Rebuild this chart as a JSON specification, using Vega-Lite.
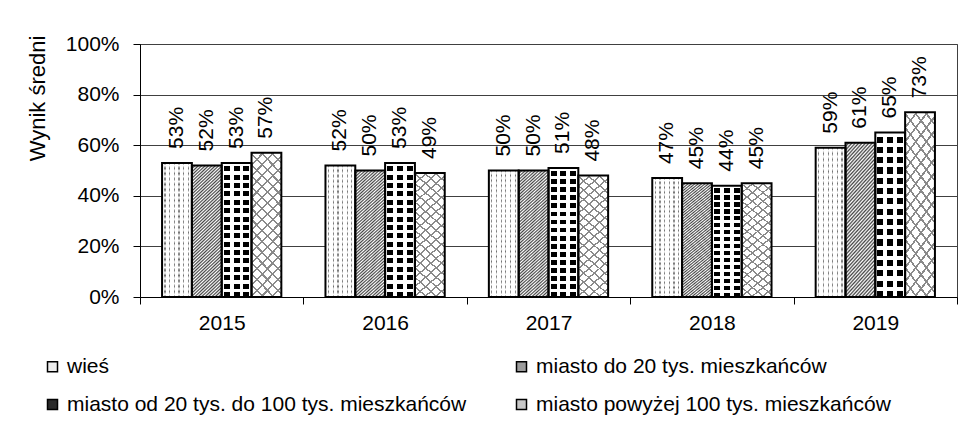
{
  "$schema": "https://vega.github.io/schema/vega-lite/v6.json",
  "width": 817,
  "height": 253,
  "autosize": {"type": "none"},
  "padding": {"left": 140, "top": 44, "right": 17, "bottom": 133},
  "background": "white",
  "config": {"font": "Liberation Sans", "view": {"stroke": "#404040", "strokeWidth": 1}},
  "data": {"values": [
    {"year": "2015", "g": "wieś", "value": 0.53},
    {"year": "2015", "g": "miasto do 20 tys. mieszkańców", "value": 0.52},
    {"year": "2015", "g": "miasto od 20 tys. do 100 tys. mieszkańców", "value": 0.53},
    {"year": "2015", "g": "miasto powyżej 100 tys. mieszkańców", "value": 0.57},
    {"year": "2016", "g": "wieś", "value": 0.52},
    {"year": "2016", "g": "miasto do 20 tys. mieszkańców", "value": 0.50},
    {"year": "2016", "g": "miasto od 20 tys. do 100 tys. mieszkańców", "value": 0.53},
    {"year": "2016", "g": "miasto powyżej 100 tys. mieszkańców", "value": 0.49},
    {"year": "2017", "g": "wieś", "value": 0.50},
    {"year": "2017", "g": "miasto do 20 tys. mieszkańców", "value": 0.50},
    {"year": "2017", "g": "miasto od 20 tys. do 100 tys. mieszkańców", "value": 0.51},
    {"year": "2017", "g": "miasto powyżej 100 tys. mieszkańców", "value": 0.48},
    {"year": "2018", "g": "wieś", "value": 0.47},
    {"year": "2018", "g": "miasto do 20 tys. mieszkańców", "value": 0.45},
    {"year": "2018", "g": "miasto od 20 tys. do 100 tys. mieszkańców", "value": 0.44},
    {"year": "2018", "g": "miasto powyżej 100 tys. mieszkańców", "value": 0.45},
    {"year": "2019", "g": "wieś", "value": 0.59},
    {"year": "2019", "g": "miasto do 20 tys. mieszkańców", "value": 0.61},
    {"year": "2019", "g": "miasto od 20 tys. do 100 tys. mieszkańców", "value": 0.65},
    {"year": "2019", "g": "miasto powyżej 100 tys. mieszkańców", "value": 0.73}
  ]},
  "encoding": {
    "x": {
      "field": "year", "type": "ordinal",
      "scale": {"paddingInner": 0, "paddingOuter": 0},
      "axis": {"title": null, "labelAngle": 0, "labelFontSize": 21, "labelColor": "#000", "labelPadding": 8, "tickBand": "extent", "tickSize": 7, "tickColor": "#000", "domainColor": "#000", "grid": false}
    },
    "xOffset": {
      "field": "g", "type": "nominal",
      "scale": {"domain": ["wieś", "miasto do 20 tys. mieszkańców", "miasto od 20 tys. do 100 tys. mieszkańców", "miasto powyżej 100 tys. mieszkańców"], "paddingInner": 0, "paddingOuter": 0.74}
    },
    "y": {
      "field": "value", "type": "quantitative",
      "scale": {"domain": [0, 1]},
      "axis": {"title": "Wynik średni", "format": ".0%", "values": [0, 0.2, 0.4, 0.6, 0.8, 1], "grid": true, "gridColor": "#404040", "domainColor": "#000", "tickColor": "#000", "tickSize": 7, "labelFontSize": 21, "labelColor": "#000", "labelPadding": 14, "titleFontSize": 22, "titleFontWeight": "normal", "titleColor": "#000", "titleAngle": 270, "titleAlign": "center", "titleBaseline": "middle", "titleX": -103, "titleY": 54}
    }
  },
  "layer": [
    {
      "mark": {"type": "bar"},
      "encoding": {
        "color": {
          "field": "g", "type": "nominal",
          "scale": {"domain": ["wieś", "miasto do 20 tys. mieszkańców", "miasto od 20 tys. do 100 tys. mieszkańców", "miasto powyżej 100 tys. mieszkańców"], "range": ["#eeeeee", "#9d9d9d", "#2a2a2a", "#c8c8c8"]},
          "legend": {"title": null, "orient": "none", "legendX": -98, "legendY": 312, "columns": 2, "direction": "horizontal", "symbolType": "square", "symbolSize": 100, "symbolStrokeColor": "#000", "symbolStrokeWidth": 1.5, "labelFontSize": 21, "labelColor": "#000", "labelOffset": 4, "columnPadding": 44, "rowPadding": 16, "padding": 0, "labelLimit": 600}
        }
      }
    },
    {
      "transform": [{"filter": "datum.g === 'wieś'"}],
      "mark": {"type": "bar", "fill": {"gradient": "linear", "x1": 0, "y1": 0, "x2": 1, "y2": 0, "stops": [
        {"offset": 0, "color": "#fff"}, {"offset": 0.08, "color": "#fff"}, {"offset": 0.08, "color": "#707070"}, {"offset": 0.12, "color": "#707070"},
        {"offset": 0.12, "color": "#fff"}, {"offset": 0.24, "color": "#fff"}, {"offset": 0.24, "color": "#707070"}, {"offset": 0.28, "color": "#707070"},
        {"offset": 0.28, "color": "#fff"}, {"offset": 0.4, "color": "#fff"}, {"offset": 0.4, "color": "#707070"}, {"offset": 0.44, "color": "#707070"},
        {"offset": 0.44, "color": "#fff"}, {"offset": 0.55, "color": "#fff"}, {"offset": 0.55, "color": "#707070"}, {"offset": 0.59, "color": "#707070"},
        {"offset": 0.59, "color": "#fff"}, {"offset": 0.71, "color": "#fff"}, {"offset": 0.71, "color": "#707070"}, {"offset": 0.75, "color": "#707070"},
        {"offset": 0.75, "color": "#fff"}, {"offset": 0.86, "color": "#fff"}, {"offset": 0.86, "color": "#707070"}, {"offset": 0.9, "color": "#707070"},
        {"offset": 0.9, "color": "#fff"}, {"offset": 1, "color": "#fff"}
      ]}}
    },
    {
      "transform": [{"filter": "datum.g === 'wieś'"}],
      "mark": {"type": "bar", "fill": {"gradient": "linear", "x1": 0, "y1": 0, "x2": 0, "y2": 1, "stops": [
        {"offset": 0, "color": "rgba(255,255,255,0)"}, {"offset": 0.02, "color": "#fff"}, {"offset": 0.04, "color": "rgba(255,255,255,0)"}, {"offset": 0.06, "color": "#fff"},
        {"offset": 0.08, "color": "rgba(255,255,255,0)"}, {"offset": 0.1, "color": "#fff"}, {"offset": 0.12, "color": "rgba(255,255,255,0)"}, {"offset": 0.14, "color": "#fff"},
        {"offset": 0.16, "color": "rgba(255,255,255,0)"}, {"offset": 0.18, "color": "#fff"}, {"offset": 0.2, "color": "rgba(255,255,255,0)"}, {"offset": 0.22, "color": "#fff"},
        {"offset": 0.24, "color": "rgba(255,255,255,0)"}, {"offset": 0.26, "color": "#fff"}, {"offset": 0.28, "color": "rgba(255,255,255,0)"}, {"offset": 0.3, "color": "#fff"},
        {"offset": 0.32, "color": "rgba(255,255,255,0)"}, {"offset": 0.34, "color": "#fff"}, {"offset": 0.36, "color": "rgba(255,255,255,0)"}, {"offset": 0.38, "color": "#fff"},
        {"offset": 0.4, "color": "rgba(255,255,255,0)"}, {"offset": 0.42, "color": "#fff"}, {"offset": 0.44, "color": "rgba(255,255,255,0)"}, {"offset": 0.46, "color": "#fff"},
        {"offset": 0.48, "color": "rgba(255,255,255,0)"}, {"offset": 0.5, "color": "#fff"}, {"offset": 0.52, "color": "rgba(255,255,255,0)"}, {"offset": 0.54, "color": "#fff"},
        {"offset": 0.56, "color": "rgba(255,255,255,0)"}, {"offset": 0.58, "color": "#fff"}, {"offset": 0.6, "color": "rgba(255,255,255,0)"}, {"offset": 0.62, "color": "#fff"},
        {"offset": 0.64, "color": "rgba(255,255,255,0)"}, {"offset": 0.66, "color": "#fff"}, {"offset": 0.68, "color": "rgba(255,255,255,0)"}, {"offset": 0.7, "color": "#fff"},
        {"offset": 0.72, "color": "rgba(255,255,255,0)"}, {"offset": 0.74, "color": "#fff"}, {"offset": 0.76, "color": "rgba(255,255,255,0)"}, {"offset": 0.78, "color": "#fff"},
        {"offset": 0.8, "color": "rgba(255,255,255,0)"}, {"offset": 0.82, "color": "#fff"}, {"offset": 0.84, "color": "rgba(255,255,255,0)"}, {"offset": 0.86, "color": "#fff"},
        {"offset": 0.88, "color": "rgba(255,255,255,0)"}, {"offset": 0.9, "color": "#fff"}, {"offset": 0.92, "color": "rgba(255,255,255,0)"}, {"offset": 0.94, "color": "#fff"},
        {"offset": 0.96, "color": "rgba(255,255,255,0)"}, {"offset": 0.98, "color": "#fff"}, {"offset": 1, "color": "rgba(255,255,255,0)"}
      ]}}
    },
    {
      "transform": [{"filter": "datum.g === 'miasto do 20 tys. mieszkańców'"}],
      "mark": {"type": "bar", "fill": {"gradient": "linear", "x1": 0, "y1": 0, "x2": 0.247, "y2": 1.16, "stops": [
        {"offset": 0, "color": "#444"}, {"offset": 0.01, "color": "#fff"}, {"offset": 0.02, "color": "#444"}, {"offset": 0.03, "color": "#fff"},
        {"offset": 0.04, "color": "#444"}, {"offset": 0.05, "color": "#fff"}, {"offset": 0.06, "color": "#444"}, {"offset": 0.07, "color": "#fff"},
        {"offset": 0.08, "color": "#444"}, {"offset": 0.09, "color": "#fff"}, {"offset": 0.1, "color": "#444"}, {"offset": 0.11, "color": "#fff"},
        {"offset": 0.12, "color": "#444"}, {"offset": 0.13, "color": "#fff"}, {"offset": 0.14, "color": "#444"}, {"offset": 0.15, "color": "#fff"},
        {"offset": 0.16, "color": "#444"}, {"offset": 0.17, "color": "#fff"}, {"offset": 0.18, "color": "#444"}, {"offset": 0.19, "color": "#fff"},
        {"offset": 0.2, "color": "#444"}, {"offset": 0.21, "color": "#fff"}, {"offset": 0.22, "color": "#444"}, {"offset": 0.23, "color": "#fff"},
        {"offset": 0.24, "color": "#444"}, {"offset": 0.25, "color": "#fff"}, {"offset": 0.26, "color": "#444"}, {"offset": 0.27, "color": "#fff"},
        {"offset": 0.28, "color": "#444"}, {"offset": 0.29, "color": "#fff"}, {"offset": 0.3, "color": "#444"}, {"offset": 0.31, "color": "#fff"},
        {"offset": 0.32, "color": "#444"}, {"offset": 0.33, "color": "#fff"}, {"offset": 0.34, "color": "#444"}, {"offset": 0.35, "color": "#fff"},
        {"offset": 0.36, "color": "#444"}, {"offset": 0.37, "color": "#fff"}, {"offset": 0.38, "color": "#444"}, {"offset": 0.39, "color": "#fff"},
        {"offset": 0.4, "color": "#444"}, {"offset": 0.41, "color": "#fff"}, {"offset": 0.42, "color": "#444"}, {"offset": 0.43, "color": "#fff"},
        {"offset": 0.44, "color": "#444"}, {"offset": 0.45, "color": "#fff"}, {"offset": 0.46, "color": "#444"}, {"offset": 0.47, "color": "#fff"},
        {"offset": 0.48, "color": "#444"}, {"offset": 0.49, "color": "#fff"}, {"offset": 0.5, "color": "#444"}, {"offset": 0.51, "color": "#fff"},
        {"offset": 0.52, "color": "#444"}, {"offset": 0.53, "color": "#fff"}, {"offset": 0.54, "color": "#444"}, {"offset": 0.55, "color": "#fff"},
        {"offset": 0.56, "color": "#444"}, {"offset": 0.57, "color": "#fff"}, {"offset": 0.58, "color": "#444"}, {"offset": 0.59, "color": "#fff"},
        {"offset": 0.6, "color": "#444"}, {"offset": 0.61, "color": "#fff"}, {"offset": 0.62, "color": "#444"}, {"offset": 0.63, "color": "#fff"},
        {"offset": 0.64, "color": "#444"}, {"offset": 0.65, "color": "#fff"}, {"offset": 0.66, "color": "#444"}, {"offset": 0.67, "color": "#fff"},
        {"offset": 0.68, "color": "#444"}, {"offset": 0.69, "color": "#fff"}, {"offset": 0.7, "color": "#444"}, {"offset": 0.71, "color": "#fff"},
        {"offset": 0.72, "color": "#444"}, {"offset": 0.73, "color": "#fff"}, {"offset": 0.74, "color": "#444"}, {"offset": 0.75, "color": "#fff"},
        {"offset": 0.76, "color": "#444"}, {"offset": 0.77, "color": "#fff"}, {"offset": 0.78, "color": "#444"}, {"offset": 0.79, "color": "#fff"},
        {"offset": 0.8, "color": "#444"}, {"offset": 0.81, "color": "#fff"}, {"offset": 0.82, "color": "#444"}, {"offset": 0.83, "color": "#fff"},
        {"offset": 0.84, "color": "#444"}, {"offset": 0.85, "color": "#fff"}, {"offset": 0.86, "color": "#444"}, {"offset": 0.87, "color": "#fff"},
        {"offset": 0.88, "color": "#444"}, {"offset": 0.89, "color": "#fff"}, {"offset": 0.9, "color": "#444"}, {"offset": 0.91, "color": "#fff"},
        {"offset": 0.92, "color": "#444"}, {"offset": 0.93, "color": "#fff"}, {"offset": 0.94, "color": "#444"}, {"offset": 0.95, "color": "#fff"},
        {"offset": 0.96, "color": "#444"}, {"offset": 0.97, "color": "#fff"}, {"offset": 0.98, "color": "#444"}, {"offset": 0.99, "color": "#fff"},
        {"offset": 1, "color": "#444"}
      ]}}
    },
    {
      "transform": [{"filter": "datum.g === 'miasto od 20 tys. do 100 tys. mieszkańców'"}],
      "mark": {"type": "bar", "fill": {"gradient": "linear", "x1": 0, "y1": 0, "x2": 0, "y2": 1, "stops": [
        {"offset": 0, "color": "#fff"}, {"offset": 0.025, "color": "#fff"}, {"offset": 0.025, "color": "#000"}, {"offset": 0.0625, "color": "#000"},
        {"offset": 0.0625, "color": "#fff"}, {"offset": 0.0875, "color": "#fff"}, {"offset": 0.0875, "color": "#000"}, {"offset": 0.125, "color": "#000"},
        {"offset": 0.125, "color": "#fff"}, {"offset": 0.15, "color": "#fff"}, {"offset": 0.15, "color": "#000"}, {"offset": 0.1875, "color": "#000"},
        {"offset": 0.1875, "color": "#fff"}, {"offset": 0.2125, "color": "#fff"}, {"offset": 0.2125, "color": "#000"}, {"offset": 0.25, "color": "#000"},
        {"offset": 0.25, "color": "#fff"}, {"offset": 0.275, "color": "#fff"}, {"offset": 0.275, "color": "#000"}, {"offset": 0.3125, "color": "#000"},
        {"offset": 0.3125, "color": "#fff"}, {"offset": 0.3375, "color": "#fff"}, {"offset": 0.3375, "color": "#000"}, {"offset": 0.375, "color": "#000"},
        {"offset": 0.375, "color": "#fff"}, {"offset": 0.4, "color": "#fff"}, {"offset": 0.4, "color": "#000"}, {"offset": 0.4375, "color": "#000"},
        {"offset": 0.4375, "color": "#fff"}, {"offset": 0.4625, "color": "#fff"}, {"offset": 0.4625, "color": "#000"}, {"offset": 0.5, "color": "#000"},
        {"offset": 0.5, "color": "#fff"}, {"offset": 0.525, "color": "#fff"}, {"offset": 0.525, "color": "#000"}, {"offset": 0.5625, "color": "#000"},
        {"offset": 0.5625, "color": "#fff"}, {"offset": 0.5875, "color": "#fff"}, {"offset": 0.5875, "color": "#000"}, {"offset": 0.625, "color": "#000"},
        {"offset": 0.625, "color": "#fff"}, {"offset": 0.65, "color": "#fff"}, {"offset": 0.65, "color": "#000"}, {"offset": 0.6875, "color": "#000"},
        {"offset": 0.6875, "color": "#fff"}, {"offset": 0.7125, "color": "#fff"}, {"offset": 0.7125, "color": "#000"}, {"offset": 0.75, "color": "#000"},
        {"offset": 0.75, "color": "#fff"}, {"offset": 0.775, "color": "#fff"}, {"offset": 0.775, "color": "#000"}, {"offset": 0.8125, "color": "#000"},
        {"offset": 0.8125, "color": "#fff"}, {"offset": 0.8375, "color": "#fff"}, {"offset": 0.8375, "color": "#000"}, {"offset": 0.875, "color": "#000"},
        {"offset": 0.875, "color": "#fff"}, {"offset": 0.9, "color": "#fff"}, {"offset": 0.9, "color": "#000"}, {"offset": 0.9375, "color": "#000"},
        {"offset": 0.9375, "color": "#fff"}, {"offset": 0.9625, "color": "#fff"}, {"offset": 0.9625, "color": "#000"}, {"offset": 1, "color": "#000"}
      ]}}
    },
    {
      "transform": [{"filter": "datum.g === 'miasto od 20 tys. do 100 tys. mieszkańców'"}],
      "mark": {"type": "bar", "fill": {"gradient": "linear", "x1": 0, "y1": 0, "x2": 1, "y2": 0, "stops": [
        {"offset": 0, "color": "#fff"}, {"offset": 0.07, "color": "#fff"}, {"offset": 0.07, "color": "rgba(255,255,255,0)"}, {"offset": 0.27, "color": "rgba(255,255,255,0)"},
        {"offset": 0.27, "color": "#fff"}, {"offset": 0.4, "color": "#fff"}, {"offset": 0.4, "color": "rgba(255,255,255,0)"}, {"offset": 0.6, "color": "rgba(255,255,255,0)"},
        {"offset": 0.6, "color": "#fff"}, {"offset": 0.73, "color": "#fff"}, {"offset": 0.73, "color": "rgba(255,255,255,0)"}, {"offset": 0.93, "color": "rgba(255,255,255,0)"},
        {"offset": 0.93, "color": "#fff"}, {"offset": 1, "color": "#fff"}
      ]}}
    },
    {
      "transform": [{"filter": "datum.g === 'miasto powyżej 100 tys. mieszkańców'"}],
      "mark": {"type": "bar", "fill": {"gradient": "linear", "x1": 0, "y1": 0, "x2": 0.247, "y2": 1.16, "stops": [
        {"offset": 0, "color": "#8a8a8a"}, {"offset": 0.0125, "color": "#8a8a8a"}, {"offset": 0.0125, "color": "#fff"}, {"offset": 0.0625, "color": "#fff"},
        {"offset": 0.0625, "color": "#8a8a8a"}, {"offset": 0.075, "color": "#8a8a8a"}, {"offset": 0.075, "color": "#fff"}, {"offset": 0.125, "color": "#fff"},
        {"offset": 0.125, "color": "#8a8a8a"}, {"offset": 0.1375, "color": "#8a8a8a"}, {"offset": 0.1375, "color": "#fff"}, {"offset": 0.1875, "color": "#fff"},
        {"offset": 0.1875, "color": "#8a8a8a"}, {"offset": 0.2, "color": "#8a8a8a"}, {"offset": 0.2, "color": "#fff"}, {"offset": 0.25, "color": "#fff"},
        {"offset": 0.25, "color": "#8a8a8a"}, {"offset": 0.2625, "color": "#8a8a8a"}, {"offset": 0.2625, "color": "#fff"}, {"offset": 0.3125, "color": "#fff"},
        {"offset": 0.3125, "color": "#8a8a8a"}, {"offset": 0.325, "color": "#8a8a8a"}, {"offset": 0.325, "color": "#fff"}, {"offset": 0.375, "color": "#fff"},
        {"offset": 0.375, "color": "#8a8a8a"}, {"offset": 0.3875, "color": "#8a8a8a"}, {"offset": 0.3875, "color": "#fff"}, {"offset": 0.4375, "color": "#fff"},
        {"offset": 0.4375, "color": "#8a8a8a"}, {"offset": 0.45, "color": "#8a8a8a"}, {"offset": 0.45, "color": "#fff"}, {"offset": 0.5, "color": "#fff"},
        {"offset": 0.5, "color": "#8a8a8a"}, {"offset": 0.5125, "color": "#8a8a8a"}, {"offset": 0.5125, "color": "#fff"}, {"offset": 0.5625, "color": "#fff"},
        {"offset": 0.5625, "color": "#8a8a8a"}, {"offset": 0.575, "color": "#8a8a8a"}, {"offset": 0.575, "color": "#fff"}, {"offset": 0.625, "color": "#fff"},
        {"offset": 0.625, "color": "#8a8a8a"}, {"offset": 0.6375, "color": "#8a8a8a"}, {"offset": 0.6375, "color": "#fff"}, {"offset": 0.6875, "color": "#fff"},
        {"offset": 0.6875, "color": "#8a8a8a"}, {"offset": 0.7, "color": "#8a8a8a"}, {"offset": 0.7, "color": "#fff"}, {"offset": 0.75, "color": "#fff"},
        {"offset": 0.75, "color": "#8a8a8a"}, {"offset": 0.7625, "color": "#8a8a8a"}, {"offset": 0.7625, "color": "#fff"}, {"offset": 0.8125, "color": "#fff"},
        {"offset": 0.8125, "color": "#8a8a8a"}, {"offset": 0.825, "color": "#8a8a8a"}, {"offset": 0.825, "color": "#fff"}, {"offset": 0.875, "color": "#fff"},
        {"offset": 0.875, "color": "#8a8a8a"}, {"offset": 0.8875, "color": "#8a8a8a"}, {"offset": 0.8875, "color": "#fff"}, {"offset": 0.9375, "color": "#fff"},
        {"offset": 0.9375, "color": "#8a8a8a"}, {"offset": 0.95, "color": "#8a8a8a"}, {"offset": 0.95, "color": "#fff"}, {"offset": 1, "color": "#fff"}
      ]}}
    },
    {
      "transform": [{"filter": "datum.g === 'miasto powyżej 100 tys. mieszkańców'"}],
      "mark": {"type": "bar", "fill": {"gradient": "linear", "x1": 0, "y1": 1, "x2": 0.247, "y2": -0.16, "stops": [
        {"offset": 0, "color": "#8a8a8a"}, {"offset": 0.0125, "color": "#8a8a8a"}, {"offset": 0.0125, "color": "rgba(255,255,255,0)"}, {"offset": 0.0625, "color": "rgba(255,255,255,0)"},
        {"offset": 0.0625, "color": "#8a8a8a"}, {"offset": 0.075, "color": "#8a8a8a"}, {"offset": 0.075, "color": "rgba(255,255,255,0)"}, {"offset": 0.125, "color": "rgba(255,255,255,0)"},
        {"offset": 0.125, "color": "#8a8a8a"}, {"offset": 0.1375, "color": "#8a8a8a"}, {"offset": 0.1375, "color": "rgba(255,255,255,0)"}, {"offset": 0.1875, "color": "rgba(255,255,255,0)"},
        {"offset": 0.1875, "color": "#8a8a8a"}, {"offset": 0.2, "color": "#8a8a8a"}, {"offset": 0.2, "color": "rgba(255,255,255,0)"}, {"offset": 0.25, "color": "rgba(255,255,255,0)"},
        {"offset": 0.25, "color": "#8a8a8a"}, {"offset": 0.2625, "color": "#8a8a8a"}, {"offset": 0.2625, "color": "rgba(255,255,255,0)"}, {"offset": 0.3125, "color": "rgba(255,255,255,0)"},
        {"offset": 0.3125, "color": "#8a8a8a"}, {"offset": 0.325, "color": "#8a8a8a"}, {"offset": 0.325, "color": "rgba(255,255,255,0)"}, {"offset": 0.375, "color": "rgba(255,255,255,0)"},
        {"offset": 0.375, "color": "#8a8a8a"}, {"offset": 0.3875, "color": "#8a8a8a"}, {"offset": 0.3875, "color": "rgba(255,255,255,0)"}, {"offset": 0.4375, "color": "rgba(255,255,255,0)"},
        {"offset": 0.4375, "color": "#8a8a8a"}, {"offset": 0.45, "color": "#8a8a8a"}, {"offset": 0.45, "color": "rgba(255,255,255,0)"}, {"offset": 0.5, "color": "rgba(255,255,255,0)"},
        {"offset": 0.5, "color": "#8a8a8a"}, {"offset": 0.5125, "color": "#8a8a8a"}, {"offset": 0.5125, "color": "rgba(255,255,255,0)"}, {"offset": 0.5625, "color": "rgba(255,255,255,0)"},
        {"offset": 0.5625, "color": "#8a8a8a"}, {"offset": 0.575, "color": "#8a8a8a"}, {"offset": 0.575, "color": "rgba(255,255,255,0)"}, {"offset": 0.625, "color": "rgba(255,255,255,0)"},
        {"offset": 0.625, "color": "#8a8a8a"}, {"offset": 0.6375, "color": "#8a8a8a"}, {"offset": 0.6375, "color": "rgba(255,255,255,0)"}, {"offset": 0.6875, "color": "rgba(255,255,255,0)"},
        {"offset": 0.6875, "color": "#8a8a8a"}, {"offset": 0.7, "color": "#8a8a8a"}, {"offset": 0.7, "color": "rgba(255,255,255,0)"}, {"offset": 0.75, "color": "rgba(255,255,255,0)"},
        {"offset": 0.75, "color": "#8a8a8a"}, {"offset": 0.7625, "color": "#8a8a8a"}, {"offset": 0.7625, "color": "rgba(255,255,255,0)"}, {"offset": 0.8125, "color": "rgba(255,255,255,0)"},
        {"offset": 0.8125, "color": "#8a8a8a"}, {"offset": 0.825, "color": "#8a8a8a"}, {"offset": 0.825, "color": "rgba(255,255,255,0)"}, {"offset": 0.875, "color": "rgba(255,255,255,0)"},
        {"offset": 0.875, "color": "#8a8a8a"}, {"offset": 0.8875, "color": "#8a8a8a"}, {"offset": 0.8875, "color": "rgba(255,255,255,0)"}, {"offset": 0.9375, "color": "rgba(255,255,255,0)"},
        {"offset": 0.9375, "color": "#8a8a8a"}, {"offset": 0.95, "color": "#8a8a8a"}, {"offset": 0.95, "color": "rgba(255,255,255,0)"}, {"offset": 1, "color": "rgba(255,255,255,0)"}
      ]}}
    },
    {
      "mark": {"type": "bar", "fill": "transparent", "stroke": "#000", "strokeWidth": 2}
    },
    {
      "mark": {"type": "text", "angle": 270, "align": "left", "baseline": "middle", "dx": 14, "fontSize": 21, "color": "#000"},
      "encoding": {"text": {"field": "value", "type": "quantitative", "format": ".0%"}}
    }
  ]
}
